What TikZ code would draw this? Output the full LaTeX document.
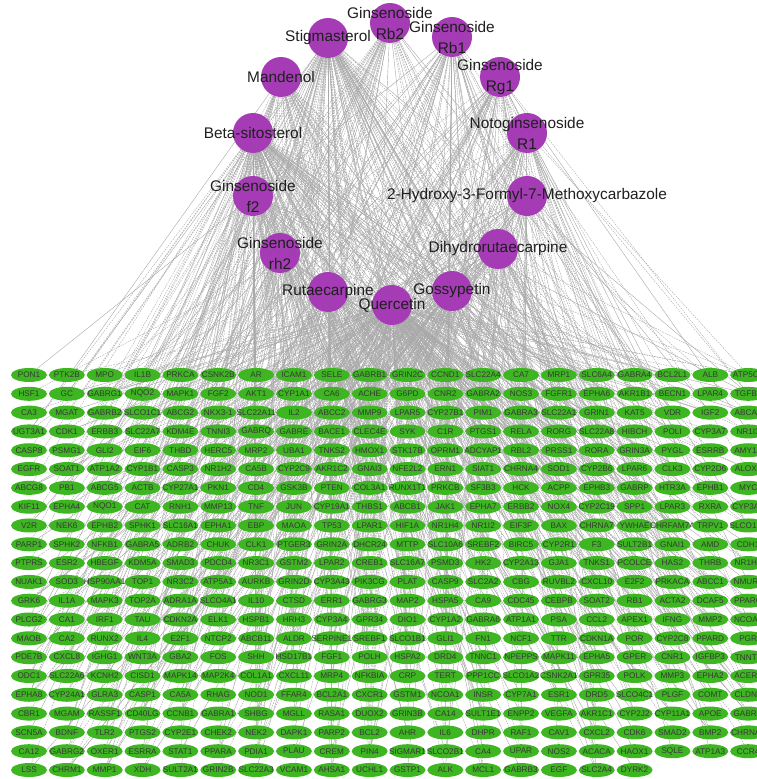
\documentclass[tikz,border=0pt]{standalone}
\usepackage{fontspec}
\setmainfont{Liberation Sans}
\usetikzlibrary{shapes.geometric}
\definecolor{genegreen}{RGB}{62,182,34}
\definecolor{drugpurple}{RGB}{165,60,182}
\definecolor{edgegray}{RGB}{168,168,168}
\pgfdeclarelayer{bg}
\pgfsetlayers{bg,main}

\def\druglist{rb2/390/23/{Ginsenoside\\Rb2}, rb1/452/37/{Ginsenoside\\Rb1},
  stig/328/38/{Stigmasterol}, mand/281/77/{Mandenol}, rg1/500/77/{Ginsenoside\\Rg1},
  beta/253/133/{Beta-sitosterol}, noto/527/133/{Notoginsenoside\\R1},
  f2/253/196/{Ginsenoside\\f2}, hmc/527/196/{2-Hydroxy-3-Formyl-7-Methoxycarbazole},
  rh2/280/253/{Ginsenoside\\rh2}, dihy/498/249/{Dihydrorutaecarpine},
  ruta/328/292/{Rutaecarpine}, goss/452/291/{Gossypetin}, quer/392/305/{Quercetin}}
\def\druglinks{quer/0.38, beta/0.24, stig/0.22, rb2/0.1, rb1/0.12, mand/0.12, rg1/0.12,
  noto/0.12, f2/0.1, hmc/0.09, rh2/0.1, dihy/0.1, ruta/0.12, goss/0.14}
\def\genelist{
  {PON1,PTK2B,MPO,IL1B,PRKCA,CSNK2B,AR,ICAM1,SELE,GABRB1,GRIN2C,CCND1,SLC22A4,CA7,MRP1,SLC6A4,GABRA4,BCL2L1,ALB,ATP5C1},
  {HSF1,GC,GABRG1,NQO2,MAPK1,FGF2,AKT1,CYP1A1,CA6,ACHE,G6PD,CNR2,GABRA2,NOS3,FGFR1,EPHA6,AKR1B1,BECN1,LPAR4,TGFB1},
  {CA3,MGAT,GABRB2,SLCO1C1,ABCG2,NKX3-1,SLC22A11,IL2,ABCC2,MMP9,LPAR5,CYP27B1,PIM1,GABRA3,SLC22A1,GRIN1,KAT5,VDR,IGF2,ABCA1},
  {UGT3A1,CDK1,ERBB3,SLC22A7,KDM4E,TNNI3,GABRQ,GABRE,BACE1,CLEC4E,SYK,C1R,PTGS1,RELA,RORG,SLC22A8,HIBCH,POLI,CYP3A7,NR1I3},
  {CASP8,PSMG1,GLI2,EIF6,THBD,HERC5,MRP2,UBA1,TNKS2,HMOX1,STK17B,OPRM1,ADCYAP1,RBL2,PRSS1,RORA,GRIN3A,PYGL,ESRRB,AMY1A},
  {EGFR,SOAT1,ATP1A2,CYP1B1,CASP3,NR1H2,CA5B,CYP2C9,AKR1C2,GNAI3,NFE2L2,ERN1,SIAT1,CHRNA4,SOD1,CYP2B6,LPAR6,CLK3,CYP2D6,ALOX5},
  {ABCG8,PB1,ABCG5,ACTB,CYP27A1,PKN1,CD4,GSK3B,PTEN,COL3A1,RUNX1T1,PRKCB,SF3B3,HCK,ACPP,EPHB3,GABRP,HTR3A,EPHB1,MYC},
  {KIF11,EPHA4,NQO1,CAT,RNH1,MMP13,TNF,JUN,CYP19A1,THBS1,ABCB1,JAK1,EPHA7,ERBB2,NOX4,CYP2C19,SPP1,LPAR3,RXRA,CYP3A5},
  {V2R,NEK6,EPHB2,SPHK1,SLC16A1,EPHA1,EBP,MAOA,TP53,LPAR1,HIF1A,NR1H4,NR1I2,EIF3F,BAX,CHRNA7,YWHAE,CHRFAM7A,TRPV1,SLCO1B3},
  {PARP1,SPHK2,NFKB1,GABRA5,ADRB2,CHUK,CLK1,PTGER3,GRIN2A,DHCR24,MTTP,SLC10A6,SREBF2,BIRC5,CYP2R1,F3,SULT2B1,GNAI1,AMD,CDH1},
  {PTPRS,ESR2,HBEGF,KDM5A,SMAD3,PDCD4,NR3C1,GSTM2,LPAR2,CREB1,SLC16A7,PSMD3,HK2,CYP2A13,GJA1,TNKS1,PCOLCE,HAS2,THRB,NR1H3},
  {NUAK1,SOD3,HSP90AA1,TOP1,NR3C2,ATP5A1,AURKB,GRIN2D,CYP3A43,PIK3CG,PLAT,CASP9,SLC2A2,CBG,RUVBL2,CXCL10,E2F2,PRKACA,ABCC1,NMUR2},
  {GRK6,IL1A,MAPK3,TOP2A,ADRA1A,SLCO4A1,IL10,CTSD,ERR1,GABRG3,MAP2,HSPA5,CA9,CDC45,CEBPB,SOAT2,RB1,ACTA2,DCAF5,PPARG},
  {PLCG2,CA1,IRF1,TAU,CDKN2A,ELK1,HSPB1,HRH3,CYP3A4,GPR34,DIO1,CYP1A2,GABRA6,ATP1A1,PSA,CCL2,APEX1,IFNG,MMP2,NCOA2},
  {MAOB,CA2,RUNX2,IL4,E2F1,NTCP2,ABCB11,ALDR,SERPINE1,SREBF1,SLCO1B1,GLI1,FN1,NCF1,TTR,CDKN1A,POR,CYP2C8,PPARD,PGR},
  {PDE7B,CXCL8,IGHG1,WNT3A,GBA2,FOS,SHH,HSD17B1,FGF1,POLH,HSPA2,DRD4,TNNC1,NPEPPS,MAPK11,EPHA5,GPER,CNR1,IGFBP3,TNNT2},
  {ODC1,SLC22A6,KCNH2,CISD1,MAPK14,MAP2K4,COL1A1,CXCL11,MRP4,NFKBIA,CRP,TERT,PPP1CC,SLCO1A2,CSNK2A1,GPR35,POLK,MMP3,EPHA2,ACER2},
  {EPHA8,CYP24A1,GLRA3,CASP1,CA5A,RHAG,NOD1,FFAR4,BCL2A1,CXCR1,GSTM1,NCOA1,INSR,CYP7A1,ESR1,DRD5,SLCO4C1,PLGF,COMT,CLDN4},
  {CBR1,MGAM,RASSF1,CD40LG,CCNB1,GABRA1,SHBG,MGLL,RASA1,DUOX2,GRIN3B,CA14,SULT1E1,ENPP2,VEGFA,AKR1C1,CYP2J2,CYP11A1,APOE,GABRD},
  {SCN5A,BDNF,TLR2,PTGS2,CYP2E1,CHEK2,NEK2,DAPK1,PARP2,BCL2,AHR,IL6,DHPR,RAF1,CAV1,CXCL2,CDK6,SMAD2,BMP2,CHRNA1},
  {CA12,GABRG2,OXER1,ESRRA,STAT1,PPARA,PDIA1,PLAU,CREM,PIN4,SIGMAR1,SLCO2B1,CA4,UPAR,NOS2,ACACA,HAOX1,SQLE,ATP1A3,CCR4},
  {LSS,CHRM1,MMP1,XDH,SULT2A1,GRIN2B,SLC22A3,VCAM1,AHSA1,UCHL1,GSTP1,ALK,MCL1,GABRB3,EGF,SLC2A4,DYRK2}}

\begin{document}
\begin{tikzpicture}[x=1pt,y=-1pt,
    drug/.style={circle,fill=drugpurple,minimum size=40pt,inner sep=0pt},
    drugname/.style={align=center,inner sep=0pt,text=black!88,
      font=\fontsize{15.4}{21}\selectfont},
    gene/.style={ellipse,fill=genegreen,minimum width=36pt,minimum height=14pt,inner sep=0pt},
    genetext/.style={inner sep=0pt,text=black!78,font=\fontsize{8.2}{9}\selectfont},
    link/.style={edgegray,line width=0.4pt},
    dlink/.style={link,dash pattern=on 1.6pt off 1pt}]
  \useasboundingbox (0,0) rectangle (756,779);
  \pgfmathsetseed{11}
  % compounds
  \foreach \n/\x/\y/\t in \druglist
    \node[drug] (q-\n) at (\x,\y) {};
  \foreach \n/\x/\y/\t in \druglist
    \node[drugname] (t-\n) at (q-\n) {\t};
  % targets
  \foreach \glist [count=\r from 0] in \genelist
    \foreach \g [count=\c from 0] in \glist
      \node[gene,label={[genetext]center:\g}] (g-\r-\c) at ({29+37.85*\c},{375+18.81*\r}) {};
  % links
  \begin{pgfonlayer}{bg}
  \foreach \glist [count=\r from 0] in \genelist
    \foreach \g [count=\c from 0] in \glist
      \foreach \n/\p in \druglinks {
        \pgfmathtruncatemacro\hit{rnd<\p}
        \ifnum\hit=1
          \pgfmathtruncatemacro\dsh{rnd<0.55}
          \ifnum\dsh=1 \draw[dlink] (q-\n) -- (g-\r-\c); \else \draw[link] (q-\n) -- (g-\r-\c); \fi
        \fi
      }
  \end{pgfonlayer}
\end{tikzpicture}
\end{document}
